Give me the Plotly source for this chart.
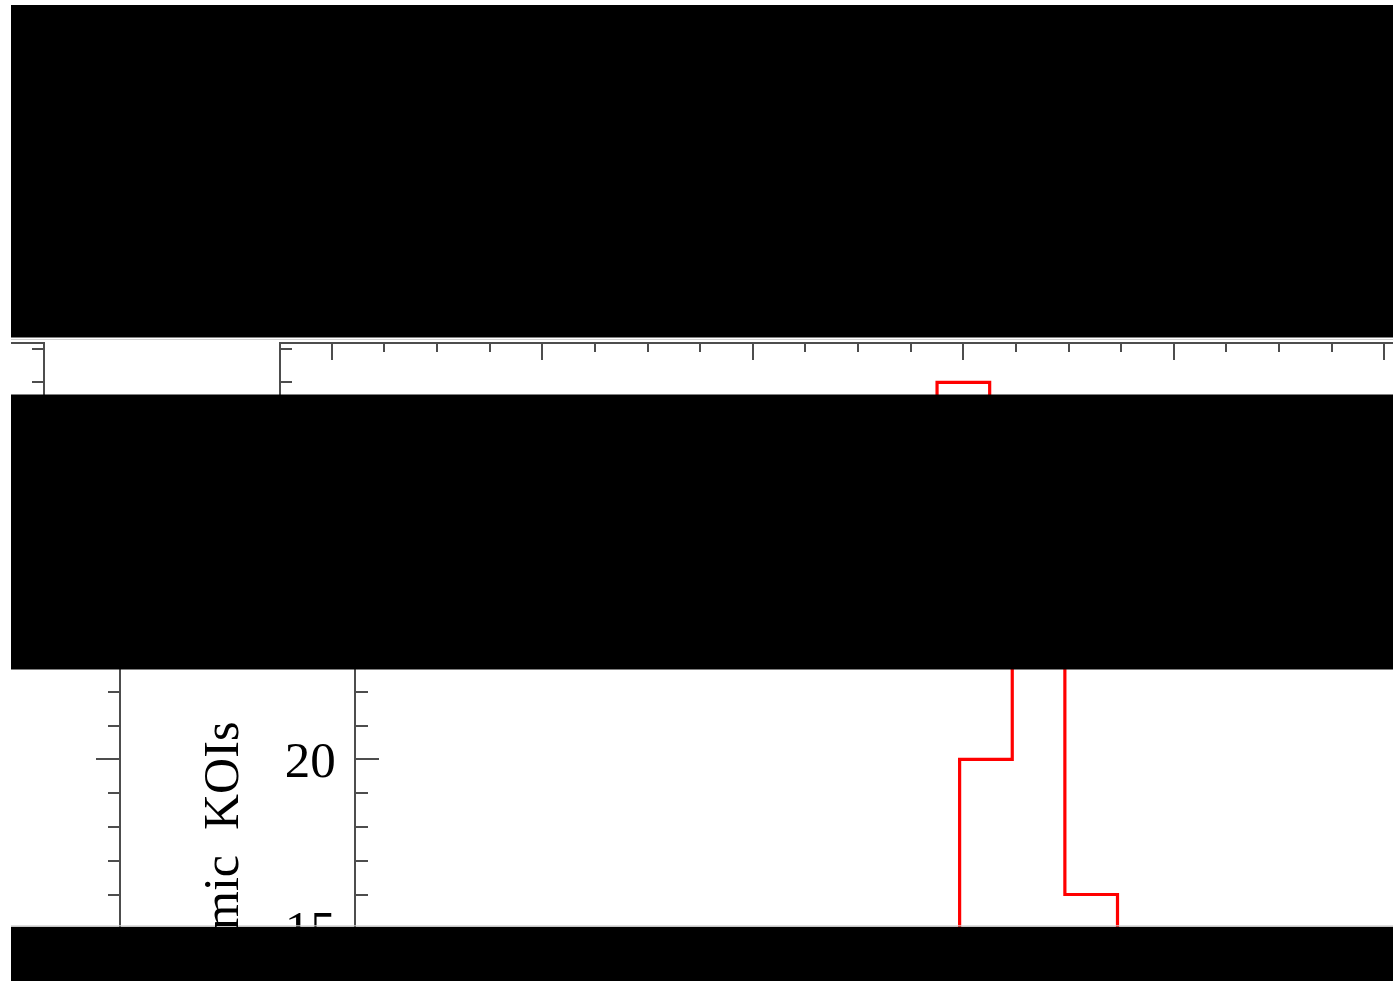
import plotly.graph_objects as go

W, H = 1393, 981

# Histogram of the asteroseismic KOI sample: bin centres and counts
bin_centers = [2.50, 2.75, 3.00, 3.25, 3.50]
counts = [9, 20, 31, 16, 8]
bin_width = 0.25

y_title = "Number of Asteroseismic\u2002KOIs"

# Step outline built from the bins (left edges, plus the closing right edge)
edges = [c - bin_width / 2 for c in bin_centers] + [bin_centers[-1] + bin_width / 2]
step_y = counts + [counts[-1]]

AXIS = "#4d4d4d"
RED = "#ff0000"
FONT = "Liberation Serif"
TEXT = "#000000"

PX_PER_X = 210.5   # pixels per x unit
PX_PER_Y = 33.8    # pixels per count
XMIN = -0.244


def fx(px):
    return px / W


def fy(py):
    return 1 - py / H


def xrange_from(left_px):
    return [XMIN, XMIN + (W - left_px) / PX_PER_X]


def yrange_from(top_px, bot_px, ref_val, ref_px):
    return [ref_val - (bot_px - ref_px) / PX_PER_Y, ref_val + (ref_px - top_px) / PX_PER_Y]


# lower view
LO_LEFT, LO_TOP, LO_BOT = 355.7, 560, 965
lo_yr = yrange_from(LO_TOP, LO_BOT, 20, 759.3)
# upper view
UP_LEFT, UP_TOP, UP_BOT = 280.5, 343.5, 520
up_yr = yrange_from(UP_TOP, UP_BOT, 31, 382.3)

fig = go.Figure()

fig.add_trace(go.Scatter(x=edges, y=step_y, mode="lines", line_shape="hv",
                         line=dict(color=RED, width=3.2), xaxis="x", yaxis="y",
                         showlegend=False, hoverinfo="skip"))
fig.add_trace(go.Scatter(x=edges, y=step_y, mode="lines", line_shape="hv",
                         line=dict(color=RED, width=3.2), xaxis="x2", yaxis="y2",
                         showlegend=False, hoverinfo="skip"))
fig.add_trace(go.Scatter(x=[], y=[], xaxis="x3", yaxis="y3", showlegend=False))
fig.add_trace(go.Scatter(x=[], y=[], xaxis="x4", yaxis="y4", showlegend=False))

common_line = dict(showline=True, linecolor=AXIS, linewidth=1.6, showgrid=False,
                   zeroline=False, automargin=False)

y_ticks = dict(ticks="inside", dtick=5, tick0=0, ticklen=23.5, tickwidth=1.6, tickcolor=AXIS,
               minor=dict(ticks="inside", dtick=1, ticklen=12, tickwidth=1.6, tickcolor=AXIS))
x_ticks = dict(ticks="inside", dtick=1, tick0=0, ticklen=17, tickwidth=1.6, tickcolor=AXIS,
               minor=dict(ticks="inside", dtick=0.25, ticklen=9, tickwidth=1.6, tickcolor=AXIS))

label_font = dict(family=FONT, size=51, color=TEXT)

fig.update_layout(
    width=W, height=H, autosize=False,
    margin=dict(l=0, r=0, t=0, b=0, pad=0),
    paper_bgcolor="white", plot_bgcolor="white",
    font=dict(family=FONT, color=TEXT, size=48),
    # lower view, main panel
    xaxis=dict(domain=[fx(LO_LEFT), 1], range=xrange_from(LO_LEFT), anchor="y",
               side="bottom", showticklabels=True, tickfont=label_font,
               **common_line, **x_ticks),
    yaxis=dict(domain=[fy(LO_BOT), fy(LO_TOP)], range=lo_yr, anchor="x", side="left",
               showticklabels=True, ticklabelstandoff=8, tickfont=label_font,
               **common_line, **y_ticks),
    # upper view, main panel
    xaxis2=dict(domain=[fx(UP_LEFT), 1], range=xrange_from(UP_LEFT), anchor="y2",
                side="top", showticklabels=False, **common_line, **x_ticks),
    yaxis2=dict(domain=[fy(UP_BOT), fy(UP_TOP)], range=up_yr, anchor="x2", side="left",
                showticklabels=True, ticklabelstandoff=8, tickfont=label_font,
                **common_line, **y_ticks),
    # lower view, neighbouring panel (right edge only)
    xaxis3=dict(domain=[fx(11), fx(119.3)], range=[0, 1], anchor="y3", visible=False),
    yaxis3=dict(domain=[fy(LO_BOT), fy(LO_TOP)], range=lo_yr, anchor="x3", side="right",
                showticklabels=False, **common_line, **y_ticks),
    # upper view, neighbouring panel
    xaxis4=dict(domain=[fx(11), fx(43.3)], range=[0, 1], anchor="y4", side="top",
                ticks="", showticklabels=False, **common_line),
    yaxis4=dict(domain=[fy(UP_BOT), fy(UP_TOP)], range=up_yr, anchor="x4", side="right",
                showticklabels=False, **common_line, **y_ticks),
)

fig.add_annotation(text=y_title, textangle=-90, xref="paper", yref="paper",
                   x=fx(221), y=fy(720), xanchor="center", yanchor="top",
                   showarrow=False, font=dict(family=FONT, size=50, color=TEXT))

# opaque bands over the figure
for top, bot in [(5, 337.5), (394.5, 669.5), (926.8, 981)]:
    fig.add_shape(type="rect", xref="paper", yref="paper", layer="above",
                  x0=fx(11), x1=1, y0=fy(bot), y1=fy(top),
                  fillcolor="black", line=dict(width=0))

# soft edges along two of the band borders
for yy in (339.5, 925.8):
    fig.add_shape(type="line", xref="paper", yref="paper", layer="above",
                  x0=fx(11), x1=1, y0=fy(yy), y1=fy(yy),
                  line=dict(color="#d2d2d2", width=1))

fig.write_html("out.html", config={"displayModeBar": False})
